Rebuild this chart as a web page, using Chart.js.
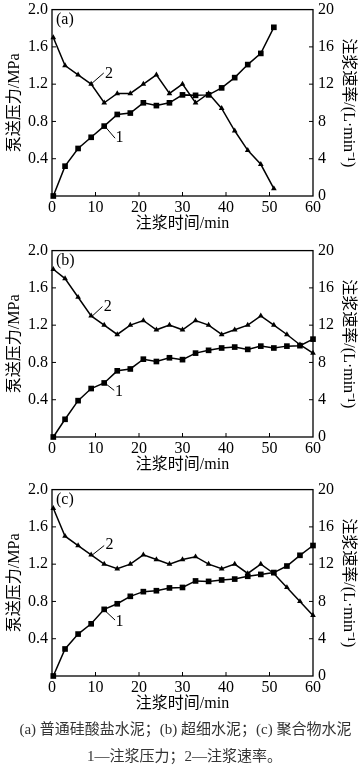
<!DOCTYPE html>
<html>
<head>
<meta charset="utf-8">
<script src="https://cdn.jsdelivr.net/npm/chart.js@4.4.0/dist/chart.umd.min.js"></script>
<style>
    body { margin: 0; background: #fff; }
    #wrap { position: relative; width: 359px; height: 765px; overflow: hidden; }
    .panel { position: absolute; left: 0; }
    .caption {
        position: absolute; left: 0; width: 359px; text-align: center;
        font-family: 'Liberation Serif', 'Noto Sans CJK SC', serif;
        font-size: 15px; line-height: 22px; color: #333; white-space: nowrap;
    }
</style>
</head>
<body>
<div id="wrap">
    <div class="panel" style="top:-5px"><canvas id="chartA" width="359" height="241"></canvas></div>
    <div class="panel" style="top:236px"><canvas id="chartB" width="359" height="241"></canvas></div>
    <div class="panel" style="top:475px"><canvas id="chartC" width="359" height="241"></canvas></div>
    <div class="caption" style="top:718px;left:6px">(a) 普通硅酸盐水泥；(b) 超细水泥；(c) 聚合物水泥</div>
    <div class="caption" style="top:745px;left:5px">1—注浆压力；2—注浆速率。</div>
</div>
<script>
(function () {
    'use strict';

    // ── Data ────────────────────────────────────────────────
    // time in min, pressure in MPa (curve 1), rate in L/min (curve 2)
    const timeA     = [0.3, 3, 6, 9, 12, 15, 18, 21, 24, 27, 30, 33, 36, 39, 42, 45, 48, 51];
    const pressureA = [0.0, 0.32, 0.51, 0.63, 0.75, 0.875, 0.89, 1.0, 0.97, 1.0, 1.085, 1.08, 1.085, 1.16, 1.27, 1.41, 1.53, 1.81];
    const rateA     = [17, 14, 13, 12, 10, 11, 11, 12, 13, 11, 12, 10, 11, 9.4, 7, 4.9, 3.4, 0.8];

    const timeB     = [0.3, 3, 6, 9, 12, 15, 18, 21, 24, 27, 30, 33, 36, 39, 42, 45, 48, 51, 54, 57, 60];
    const pressureB = [0.0, 0.19, 0.39, 0.52, 0.58, 0.71, 0.73, 0.835, 0.81, 0.85, 0.83, 0.90, 0.93, 0.955, 0.965, 0.94, 0.975, 0.955, 0.975, 0.98, 1.05];
    const rateB     = [18, 17, 15, 13, 12, 11, 12, 12.5, 11.5, 12, 11.5, 12.5, 12, 11, 11.5, 12, 13, 12, 11, 9.9, 9];

    const timeC     = [0.3, 3, 6, 9, 12, 15, 18, 21, 24, 27, 30, 33, 36, 39, 42, 45, 48, 51, 54, 57, 60];
    const pressureC = [0.0, 0.29, 0.45, 0.56, 0.715, 0.775, 0.855, 0.905, 0.915, 0.945, 0.95, 1.02, 1.015, 1.03, 1.04, 1.07, 1.09, 1.11, 1.18, 1.295, 1.40];
    const rateC     = [18, 15, 14, 13, 12, 11.5, 12, 13, 12.5, 12, 12.5, 12.8, 12, 11.5, 12, 11, 12, 11, 9.5, 8, 6.5];

    const xTicks = [0, 10, 20, 30, 40, 50, 60];

    // curve callouts: leader from -> to, label position (min, MPa)
    const calloutsA = [
        { text: '2', from: [9.2, 1.21], to: [11.9, 1.32], at: [13.1, 1.31] },
        { text: '1', from: [12.3, 0.74], to: [14.5, 0.62], at: [15.5, 0.62] },
    ];
    const calloutsB = [
        { text: '2', from: [9.3, 1.30], to: [11.6, 1.40], at: [12.8, 1.40] },
        { text: '1', from: [12.4, 0.57], to: [14.3, 0.50], at: [15.4, 0.49] },
    ];
    const calloutsC = [
        { text: '2', from: [9.3, 1.30], to: [12.0, 1.40], at: [13.2, 1.41] },
        { text: '1', from: [12.2, 0.70], to: [14.5, 0.60], at: [15.5, 0.58] },
    ];

    const serif    = "'Liberation Serif', 'Noto Sans CJK SC', serif";
    const tickFont = { family: serif, size: 16 };
    const axisFont = { family: serif, size: 16 };

    // ── Frame, inward ticks, panel tag, callouts ────────────
    const framePlugin = {
        id: 'frame',
        afterDraw(chart, args, opts) {
            const { ctx, chartArea: a, scales } = chart;
            ctx.save();
            ctx.strokeStyle = '#000';
            ctx.lineWidth = 1.3;
            ctx.strokeRect(a.left, a.top, a.right - a.left, a.bottom - a.top);

            ctx.lineWidth = 1;
            ctx.beginPath();
            xTicks.slice(1, -1).forEach(v => {
                const px = scales.x.getPixelForValue(v);
                ctx.moveTo(px, a.bottom); ctx.lineTo(px, a.bottom - 4);
            });
            scales.y.ticks.forEach(t => {
                if (t.value <= 0 || t.value >= 2) return;
                const py = scales.y.getPixelForValue(t.value);
                ctx.moveTo(a.left, py); ctx.lineTo(a.left + 4, py);
            });
            scales.y1.ticks.forEach(t => {
                if (t.value <= 0 || t.value >= 20) return;
                const py = scales.y1.getPixelForValue(t.value);
                ctx.moveTo(a.right, py); ctx.lineTo(a.right - 4, py);
            });
            ctx.stroke();

            ctx.fillStyle = '#000';
            ctx.font = `16px ${serif}`;
            ctx.textAlign = 'left';
            ctx.textBaseline = 'middle';
            ctx.fillText(opts.tag, a.left + 4, a.top + 10);

            ctx.textAlign = 'center';
            opts.callouts.forEach(c => {
                ctx.beginPath();
                ctx.moveTo(scales.x.getPixelForValue(c.from[0]), scales.y.getPixelForValue(c.from[1]));
                ctx.lineTo(scales.x.getPixelForValue(c.to[0]), scales.y.getPixelForValue(c.to[1]));
                ctx.stroke();
                ctx.fillText(c.text, scales.x.getPixelForValue(c.at[0]), scales.y.getPixelForValue(c.at[1]));
            });
            ctx.restore();
        }
    };

    function pairs(xs, ys) {
        return xs.map((x, i) => ({ x: x, y: ys[i] }));
    }

    // ── Build one panel ─────────────────────────────────────
    function makeChart(id, tag, time, pressure, rate, callouts) {
        const plotTop = 11, plotH = 190, canvasH = 241;

        return new Chart(document.getElementById(id), {
            type: 'line',
            data: {
                datasets: [
                    {
                        label: '注浆压力',
                        data: pairs(time, pressure),
                        yAxisID: 'y',
                        borderColor: '#000',
                        borderWidth: 1.5,
                        pointStyle: 'rect',
                        pointRadius: 4,
                        pointBackgroundColor: '#000',
                        pointBorderColor: '#000',
                        pointBorderWidth: 0,
                        tension: 0,
                        clip: false,
                    },
                    {
                        label: '注浆速率',
                        data: pairs(time, rate),
                        yAxisID: 'y1',
                        borderColor: '#000',
                        borderWidth: 1.5,
                        pointStyle: 'triangle',
                        pointRadius: 3.3,
                        pointBackgroundColor: '#000',
                        pointBorderColor: '#000',
                        pointBorderWidth: 0,
                        tension: 0,
                        clip: false,
                    }
                ]
            },
            options: {
                responsive: false,
                animation:  false,
                layout: { padding: { top: plotTop, left: 0, right: 0, bottom: 0 } },
                plugins: {
                    legend:  { display: false },
                    tooltip: { enabled: false },
                    frame:   { tag: tag, callouts: callouts },
                },
                scales: {
                    x: {
                        type: 'linear', min: 0, max: 60,
                        afterBuildTicks: s => { s.ticks = xTicks.map(v => ({ value: v })); },
                        ticks:  { font: tickFont, color: '#000', padding: 2, maxRotation: 0 },
                        grid:   { display: false, drawTicks: false },
                        border: { display: false },
                        title:  { display: true, text: '注浆时间/min', font: axisFont, color: '#000', padding: { top: 0, bottom: 3 } },
                        afterFit: s => { s.height = canvasH - plotTop - plotH; },
                    },
                    y: {
                        position: 'left', min: 0, max: 2,
                        ticks:  { stepSize: 0.4, font: tickFont, color: '#000', padding: 4,
                                  callback: v => v === 0 ? '' : v.toFixed(1) },
                        grid:   { display: false, drawTicks: false },
                        border: { display: false },
                        title:  { display: true, text: '泵送压力/MPa', font: axisFont, color: '#000', padding: { top: 5, bottom: 0 } },
                        afterFit: s => { s.width = 52; },
                    },
                    y1: {
                        position: 'right', min: 0, max: 20,
                        ticks:  { stepSize: 4, font: tickFont, color: '#000', padding: 5 },
                        grid:   { display: false, drawTicks: false },
                        border: { display: false },
                        title:  { display: true, text: '注浆速率/(L·min⁻¹)', font: axisFont, color: '#000', padding: { top: 1, bottom: 0 } },
                        afterFit: s => { s.width = 46; },
                    }
                }
            },
            plugins: [framePlugin]
        });
    }

    makeChart('chartA', '(a)', timeA, pressureA, rateA, calloutsA);
    makeChart('chartB', '(b)', timeB, pressureB, rateB, calloutsB);
    makeChart('chartC', '(c)', timeC, pressureC, rateC, calloutsC);
})();
</script>
</body>
</html>
